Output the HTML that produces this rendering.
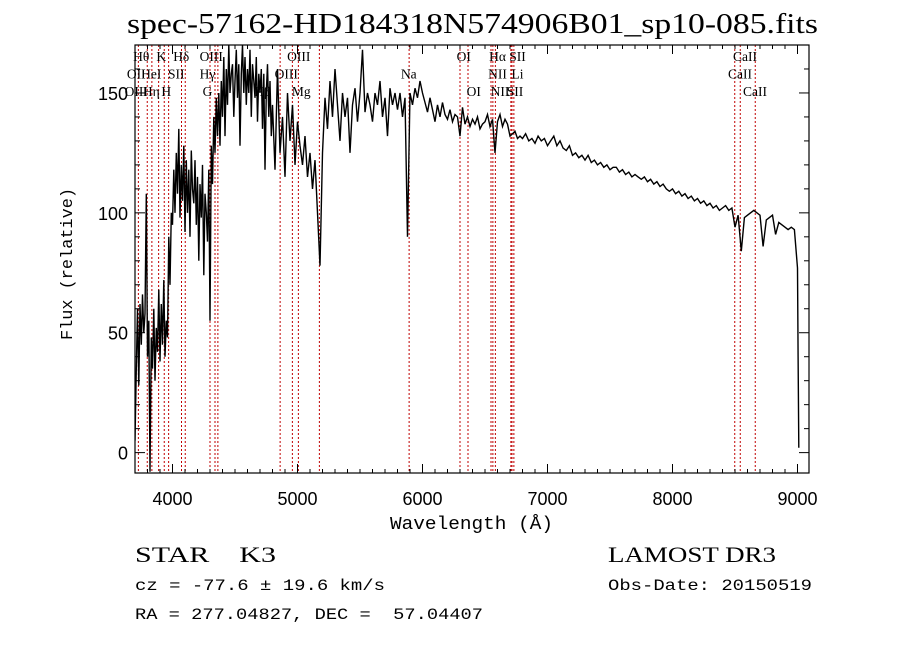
<!DOCTYPE html>
<html><head><meta charset="utf-8"><style>
html,body{margin:0;padding:0;background:#fff;}
svg{display:block;}
text{white-space:pre;}
</style></head><body>
<svg id="chart" width="900" height="649" viewBox="0 0 900 649" xmlns="http://www.w3.org/2000/svg" xml:space="preserve">
<text x="127" y="33" font-family="Liberation Serif, serif" font-size="28" textLength="691" lengthAdjust="spacingAndGlyphs">spec-57162-HD184318N574906B01_sp10-085.fits</text>
<g id="lines"></g>
<g id="spec"></g>
<rect x="135" y="45" width="674" height="428" fill="none" stroke="#000" stroke-width="1.2"/>
<g id="axes"></g>
<text x="390" y="529" font-family="Liberation Mono, monospace" font-size="18" textLength="163" lengthAdjust="spacingAndGlyphs">Wavelength (Å)</text>
<text transform="translate(72,340) rotate(-90)" font-family="Liberation Mono, monospace" font-size="17" textLength="152" lengthAdjust="spacingAndGlyphs">Flux (relative)</text>
<text x="135" y="562" font-family="Liberation Serif, serif" font-size="22" textLength="141" lengthAdjust="spacingAndGlyphs">STAR    K3</text>
<text x="608" y="562" font-family="Liberation Serif, serif" font-size="22" textLength="168" lengthAdjust="spacingAndGlyphs">LAMOST DR3</text>
<text x="135" y="590" font-family="Liberation Mono, monospace" font-size="16" textLength="250" lengthAdjust="spacingAndGlyphs">cz = -77.6 ± 19.6 km/s</text>
<text x="608" y="590" font-family="Liberation Mono, monospace" font-size="16" textLength="204" lengthAdjust="spacingAndGlyphs">Obs-Date: 20150519</text>
<text x="135" y="619" font-family="Liberation Mono, monospace" font-size="16" textLength="348" lengthAdjust="spacingAndGlyphs">RA = 277.04827, DEC =  57.04407</text>
</svg>
<script>
const blueStart = 3700, blueStep = 10;
const blueFlux = [5,35,60,28,62,45,66,50,58,108,
40,55,-8,48,35,60,30,52,42,68,
38,62,45,72,40,55,48,90,70,100,
95,118,100,125,108,135,98,120,105,128,
92,122,100,118,90,126,110,104,122,95,
115,80,112,98,120,74,108,100,88,118,
55,128,112,140,125,148,132,150,128,155,
140,165,132,160,145,170,150,158,162,140,
155,168,148,162,128,158,170,150,165,145,
160,150,168,140,162,155,148,165,138,158,
150,160,135,158,118,150,162,140,155,132];
const midStart = 4800, midStep = 20;
const midFlux = [145,118,160,125,140,115,150,130,145,120,
138,128,120,132,115,125,110,122,100,78,
125,148,135,155,140,160,145,130,150,140,
148,125,145,152,138,150,168,142,150,145,
138,150,145,155,140,148,132,152,145,150,
143,150,140,148,90,150,145,152,148,155,
150,146,142,148,143,138,145,140,146,141,
139,143,138,141,140,132,144,137,140,136,
139,137,140,135,137,138,141,136,139,125,
138,141,136,139,137,132,133,134,131,132];
const redStart = 6800, redStep = 25;
const redFlux = [131,133,130,131,129,132,130,131,128,130,
132,128,130,127,126,128,124,125,123,124,
122,124,121,122,120,121,119,120,118,119,
119,117,118,116,117,115,116,115,114,115,
113,114,112,113,111,112,110,109,110,108,
109,107,108,106,107,105,106,104,105,103,
104,102,103,101,102,103,101,102,94,99,
84,98,99,100,101,100,99,86,97,98,
99,91,96,95,94,93,94,93,77];
const tailWave = [9005, 9010];
const tailFlux = [40, 2];
const lineWaves = [3727,3798,3835,3889,3934,3969,4072,4102,4300,4340,4363,4861,4959,5007,5175,5893,6300,6364,6548,6563,6583,6707,6716,6731,8498,8542,8662];
const labelText = ["Hθ","K","Hδ","OIII","OIII","OI","Hα","SII","CaII",
"OII","HeI","SII","Hγ","OIII","Na","NII","Li","CaII",
"OIII","Hη","H","G","Hβ","Mg","OI","NII","SII","CaII"];
const labelWave = [3750,3910,4070,4310,5010,6330,6600,6760,8580,
3710,3830,4030,4280,4910,5890,6600,6760,8540,
3710,3830,3950,4280,4720,5030,6410,6620,6740,8660];
const labelRow = [0,0,0,0,0,0,0,0,0,1,1,1,1,1,1,1,1,1,2,2,2,2,2,2,2,2,2,2];
const xTicks = [4000,5000,6000,7000,8000,9000];
const yTicks = [0,50,100,150];

const X0=135,X1=809,Y0=45,Y1=473, WMIN=3700,WMAX=9092, FMIN=-8.5,FMAX=170;
const xs = w => X0 + (w-WMIN)/(WMAX-WMIN)*(X1-X0);
const ys = f => Y1 - (f-FMIN)/(FMAX-FMIN)*(Y1-Y0);
const NS="http://www.w3.org/2000/svg";
function mk(tag, parent){const e=document.createElementNS(NS,tag);parent.appendChild(e);return e;}

const lg=document.getElementById('lines');
lineWaves.forEach(w=>{
  const l=mk('line',lg);
  
  
  l.setAttribute('x1',xs(w));l.setAttribute('x2',xs(w));
  l.setAttribute('y1',Y0);l.setAttribute('y2',Y1);
  l.setAttribute('stroke','#c00000');l.setAttribute('stroke-width','1');
  l.setAttribute('stroke-dasharray','2,2');
});
labelText.forEach((t,i)=>{
  const e=mk('text',lg);
  
  
  e.setAttribute('x',xs(labelWave[i]));
  e.setAttribute('y',61+labelRow[i]*17.5);
  e.setAttribute('text-anchor','middle');
  e.setAttribute('font-family','Liberation Serif, serif');
  e.setAttribute('font-size','13.5');
  e.textContent=t;
});

const pts=[];
blueFlux.forEach((f,i)=>pts.push([blueStart+i*blueStep,f]));
midFlux.forEach((f,i)=>pts.push([midStart+i*midStep,f]));
redFlux.forEach((f,i)=>pts.push([redStart+i*redStep,f]));
tailFlux.forEach((f,i)=>pts.push([tailWave[i],f]));
const sg=document.getElementById('spec');
const cp=mk('clipPath',sg);cp.setAttribute('id','clip');
const cr=mk('rect',cp);cr.setAttribute('x',X0);cr.setAttribute('y',Y0);cr.setAttribute('width',X1-X0);cr.setAttribute('height',Y1-Y0);
const pl=mk('polyline',sg);


pl.setAttribute('points',pts.map(p=>xs(p[0]).toFixed(1)+','+ys(p[1]).toFixed(1)).join(' '));
pl.setAttribute('fill','none');pl.setAttribute('stroke','#000');pl.setAttribute('stroke-width','1.4');
pl.setAttribute('clip-path','url(#clip)');

const ag=document.getElementById('axes');
function tick(x1,y1,x2,y2){const l=mk('line',ag);l.setAttribute('x1',x1);l.setAttribute('y1',y1);l.setAttribute('x2',x2);l.setAttribute('y2',y2);l.setAttribute('stroke','#000');l.setAttribute('stroke-width','1');}
for(let w=3700;w<=9092;w+=100){const x=xs(w);const M=(w%1000===0)?9:4;tick(x,Y1,x,Y1-M);tick(x,Y0,x,Y0+M);}
for(let f=0;f<=170;f+=10){const y=ys(f);const M=(f%50===0)?10:5;tick(X0,y,X0+M,y);tick(X1,y,X1-M,y);}
xTicks.forEach(w=>{const t=mk('text',ag);
  
  
  t.setAttribute('x',xs(w));t.setAttribute('y',Y1+32);t.setAttribute('text-anchor','middle');
  t.setAttribute('font-family','Liberation Sans, sans-serif');t.setAttribute('font-size','18');t.textContent=w;});
yTicks.forEach(f=>{const t=mk('text',ag);
  
  
  t.setAttribute('x',X0-7);t.setAttribute('y',ys(f)+7);t.setAttribute('text-anchor','end');
  t.setAttribute('font-family','Liberation Sans, sans-serif');t.setAttribute('font-size','18');t.textContent=f;});
</script>
</body></html>
